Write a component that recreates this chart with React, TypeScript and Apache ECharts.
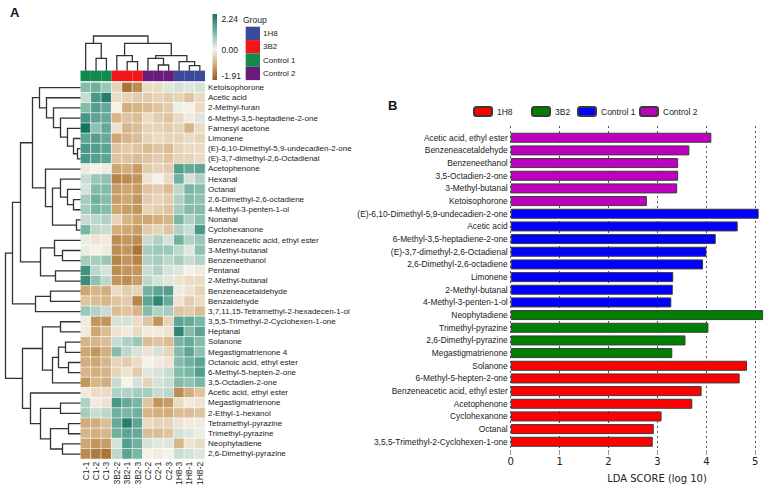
import React, { useEffect, useRef } from 'react';
import * as echarts from 'echarts';

// ---------------- Panel A data ----------------
const sampleNames = ['C1-1', 'C1-2', 'C1-3', '3B2-2', '3B2-1', '3B2-3', 'C2-2', 'C2-1', 'C2-3', '1H8-3', '1H8-1', '1H8-2'];
const sampleGroups = ['Control 1', 'Control 1', 'Control 1', '3B2', '3B2', '3B2', 'Control 2', 'Control 2', 'Control 2', '1H8', '1H8', '1H8'];
const groupLegendOrder = ['1H8', '3B2', 'Control 1', 'Control 2'];
const groupColorsA: Record<string, string> = { '1H8': '#3b4a9b', '3B2': '#f2161b', 'Control 1': '#128a4d', 'Control 2': '#6b1b7b' };

const compounds = [
  'Ketoisophorone', 'Acetic acid', '2-Methyl-furan', '6-Methyl-3,5-heptadiene-2-one', 'Farnesyl acetone', 'Limonene',
  '(E)-6,10-Dimethyl-5,9-undecadien-2-one', '(E)-3,7-dimethyl-2,6-Octadienal', 'Acetophenone', 'Hexanal', 'Octanal',
  '2,6-Dimethyl-2,6-octadiene', '4-Methyl-3-penten-1-ol', 'Nonanal', 'Cyclohexanone', 'Benzeneacetic acid, ethyl ester',
  '3-Methyl-butanal', 'Benzeneethanol', 'Pentanal', '2-Methyl-butanal', 'Benzeneacetaldehyde', 'Benzaldehyde',
  '3,7,11,15-Tetramethyl-2-hexadecen-1-ol', '3,5,5-Trimethyl-2-Cyclohexen-1-one', 'Heptanal', 'Solanone',
  'Megastigmatrienone 4', 'Octanoic acid, ethyl ester', '6-Methyl-5-hepten-2-one', '3,5-Octadien-2-one',
  'Acetic acid, ethyl ester', 'Megastigmatrienone', '2-Ethyl-1-hexanol', 'Tetramethyl-pyrazine', 'Trimethyl-pyrazine',
  'Neophytadiene', '2,6-Dimethyl-pyrazine',
];

const heatValues: number[][] = [
  [1.0, 1.2, 0.8, -0.4, -1.6, -1.3, -0.3, -0.3, 0.2, 0.3, 0.2, 0.3],
  [0.4, 1.6, 2.0, -0.3, -0.4, -0.5, -0.5, -0.4, -0.5, -0.4, -0.6, -0.3],
  [1.0, 1.5, 1.3, 0.0, -0.9, -0.8, -0.7, -0.6, -0.5, 0.05, 0.0, -0.3],
  [1.6, 1.4, 1.3, -0.8, -0.6, -0.7, -0.3, -0.5, -0.6, -0.3, -0.1, 0.2],
  [2.2, 0.9, 1.3, -0.2, -0.8, -0.7, -0.4, -0.4, -0.5, -0.4, -0.8, -0.3],
  [1.4, 1.5, 1.3, -1.0, -0.8, -0.7, -0.4, -0.3, -0.4, -0.4, -0.3, -0.4],
  [1.6, 1.5, 1.4, -0.6, -0.5, -0.6, -0.7, -0.6, -0.7, -0.4, -0.3, -0.3],
  [1.6, 1.5, 1.4, -0.6, -0.6, -0.7, -0.6, -0.5, -0.6, -0.4, -0.4, -0.3],
  [0.1, 0.0, 0.1, -1.0, -0.9, -1.1, -0.5, -0.4, -0.5, 1.5, 1.3, 1.4],
  [0.4, 0.8, 0.9, -1.4, -1.3, -1.2, -0.2, 0.0, -0.3, 1.2, 0.3, 0.6],
  [0.3, 1.0, 1.0, -1.1, -1.0, -1.1, -0.6, -0.5, -0.7, 0.5, 1.1, 1.0],
  [0.7, 1.2, 1.0, -1.1, -1.0, -1.2, -0.5, -0.4, -0.5, 0.6, 1.0, 0.9],
  [0.7, 1.1, 1.0, -1.0, -1.1, -1.2, -0.4, -0.5, -0.6, 0.7, 1.0, 1.0],
  [0.4, 0.5, 0.6, -0.4, -0.8, -1.0, -1.0, -0.9, -0.8, 1.1, 0.6, 0.9],
  [1.1, 0.5, 0.4, -0.9, -1.0, -1.1, -0.5, -0.4, -0.6, 0.6, 0.4, 1.6],
  [0.1, -0.2, -0.1, -1.3, -1.2, -1.3, 0.4, 0.6, 0.3, 1.2, 0.6, 0.8],
  [0.1, 0.0, -0.1, -1.3, -1.2, -1.6, 0.7, 0.8, 0.8, 0.5, 0.2, 0.9],
  [0.7, 0.7, 0.8, -1.4, -1.2, -1.4, 0.6, 0.7, 0.5, 0.7, 0.4, 0.6],
  [1.7, 0.5, 0.3, -1.3, -1.2, -1.2, 0.4, 0.6, 0.3, 0.2, 0.0, -0.1],
  [1.8, 0.9, 0.5, -1.2, -1.3, -1.1, 0.5, 0.3, 0.2, -0.2, -0.3, -0.3],
  [-1.0, -0.8, -0.9, -0.3, -0.5, -0.4, 1.2, 1.4, 1.5, 0.1, -0.2, -0.4],
  [-0.6, -0.7, -0.8, -0.6, -0.5, -1.4, 1.4, 1.9, 1.3, -0.2, -0.5, -0.3],
  [0.8, 0.6, 0.4, -0.7, -0.6, -0.8, 1.0, 0.6, 0.7, -0.6, -0.5, -0.7],
  [-0.1, -1.2, -1.2, 0.3, 0.3, -0.3, -0.6, -1.2, -0.4, 1.4, 1.3, 1.1],
  [-0.1, -1.0, -0.7, -0.2, -0.1, -0.3, -0.1, -0.1, -0.2, 1.9, 1.0, 1.4],
  [-0.8, -0.8, -0.7, 0.4, 0.6, 0.8, -0.7, -0.6, -0.7, 1.1, 1.3, 1.0],
  [-1.0, -1.2, -0.9, 1.0, 0.5, 0.3, -0.2, 0.3, -0.4, 1.0, 1.4, 0.9],
  [-0.9, -1.0, -0.8, -0.4, -0.5, -0.3, 0.0, -0.1, -0.2, 1.0, 1.2, 1.4],
  [-0.8, -0.9, -0.8, -0.4, -0.2, -0.5, 0.2, 0.3, 0.4, 1.0, 1.1, 1.5],
  [-1.2, -0.8, -0.9, 0.4, 0.0, 0.3, -0.4, 0.3, 0.4, 1.0, 0.9, 1.1],
  [-0.1, -0.3, -0.3, 0.6, 0.6, 0.7, 0.7, 0.4, 0.5, -1.3, -0.9, -0.6],
  [0.6, -0.1, -0.2, 1.6, 1.3, 1.1, -0.6, -1.2, -1.1, -0.3, -0.1, -0.2],
  [0.7, 0.4, 0.5, 1.2, 1.1, 1.2, -0.8, -0.9, -0.9, -0.7, -0.7, -0.6],
  [-0.9, -0.9, -0.7, 1.3, 2.0, 1.4, -0.3, -0.4, -0.4, -0.2, -0.1, -0.1],
  [-0.8, -0.9, -0.8, 1.2, 1.4, 1.3, -0.7, -0.7, -0.6, 0.3, 0.2, 0.1],
  [-1.0, -1.2, -1.1, 0.3, 1.5, 1.2, 0.3, 0.2, 0.2, -0.8, -0.2, -0.3],
  [-1.3, -1.5, -1.6, 0.5, 1.4, 1.1, 0.0, -0.1, 0.0, 0.4, 0.3, 0.2],
];

// dendrograms: [left, right, mergeHeight]; leaves are indices
type Tree = number | [Tree, Tree, number];
const colTree: Tree = [[0, [1, 2, 12.4], 27.4], [[3, [4, 5, 9], 15], [[6, [7, 8, 5.7], 12.4], [9, [10, 11, 5], 9], 15], 27.4], 34.7];
const rowTree: Tree = [
  [
    [
      [[0, [1, [2, [3, [4, [5, [6, 7, 3], 7], 13], 20], 27], 34], 41],
        [8, [[9, [10, [11, 12, 7], 13], 20], [13, 14, 4], 28], 35], 48],
      [[15, [16, 17, 18], 26], [18, 19, 25], 40],
      60,
    ],
    [[20, 21, 30], 22, 45],
    68,
  ],
  [
    [[23, 24, 20], [[[25, 26, 15], [27, 28, 12], 22], 29, 28], 38],
    [30, [[31, 32, 20], [[33, 34, 12], [35, 36, 18], 30], 40], 50],
    58,
  ],
  75,
];

const colorMin = -1.91;
const colorMax = 2.24;
const colorbarLabels = [2.24, 0.0, -1.91];
const colorAnchors: [number, string][] = [
  [-1.91, '#985a14'], [-0.95, '#d0aa76'], [0, '#f6f2ea'], [1.1, '#78b6a5'], [2.24, '#127060'],
];

// ---------------- Panel B data ----------------
const ldaFeatures = [
  'Acetic acid, ethyl ester', 'Benzeneacetaldehyde', 'Benzeneethanol', '3,5-Octadien-2-one', '3-Methyl-butanal',
  'Ketoisophorone', '(E)-6,10-Dimethyl-5,9-undecadien-2-one', 'Acetic acid', '6-Methyl-3,5-heptadiene-2-one',
  '(E)-3,7-dimethyl-2,6-Octadienal', '2,6-Dimethyl-2,6-octadiene', 'Limonene', '2-Methyl-butanal',
  '4-Methyl-3-penten-1-ol', 'Neophytadiene', 'Trimethyl-pyrazine', '2,6-Dimethyl-pyrazine', 'Megastigmatrienone',
  'Solanone', '6-Methyl-5-hepten-2-one', 'Benzeneacetic acid, ethyl ester', 'Acetophenone', 'Cyclohexanone',
  'Octanal', '3,5,5-Trimethyl-2-Cyclohexen-1-one',
];
const ldaScores = [
  4.11, 3.66, 3.43, 3.43, 3.41, 2.79, 5.08, 4.65, 4.2, 4.01, 3.94, 3.33, 3.32, 3.29,
  5.17, 4.05, 3.58, 3.31, 4.84, 4.69, 3.91, 3.72, 3.09, 2.93, 2.91,
];
const ldaGroups = [
  'Control 2', 'Control 2', 'Control 2', 'Control 2', 'Control 2', 'Control 2',
  'Control 1', 'Control 1', 'Control 1', 'Control 1', 'Control 1', 'Control 1', 'Control 1', 'Control 1',
  '3B2', '3B2', '3B2', '3B2',
  '1H8', '1H8', '1H8', '1H8', '1H8', '1H8', '1H8',
];
const ldaGroupOrder = ['1H8', '3B2', 'Control 1', 'Control 2'];
const ldaColors: Record<string, string> = { '1H8': '#ff0000', '3B2': '#008000', 'Control 1': '#0000ff', 'Control 2': '#c000c0' };
const ldaAxisMin = 0;
const ldaAxisMax = 5;
const ldaTickStep = 1;
const ldaAxisTitle = 'LDA SCORE (log 10)';

// ---------------- helpers ----------------
function hexRgb(c: string) {
  return [parseInt(c.slice(1, 3), 16), parseInt(c.slice(3, 5), 16), parseInt(c.slice(5, 7), 16)];
}
function rampColor(v: number) {
  for (let k = 0; k < colorAnchors.length - 1; k++) {
    const [v0, c0] = colorAnchors[k];
    const [v1, c1] = colorAnchors[k + 1];
    if (v <= v1 || k === colorAnchors.length - 2) {
      const t = Math.max(0, Math.min(1, (v - v0) / (v1 - v0)));
      const a = hexRgb(c0), b = hexRgb(c1);
      const m = a.map((x, i) => Math.round(x + (b[i] - x) * t));
      return `rgb(${m[0]},${m[1]},${m[2]})`;
    }
  }
  return colorAnchors[colorAnchors.length - 1][1];
}
function dendroSegments(tree: Tree, swap: boolean) {
  const segs: number[][][] = [];
  const walk = (t: Tree): { p: number; h: number } => {
    if (typeof t === 'number') return { p: t + 0.5, h: 0 };
    const a = walk(t[0]);
    const b = walk(t[1]);
    const h = t[2];
    const pts = [[a.p, a.h], [a.p, h], [b.p, h], [b.p, b.h]];
    segs.push(swap ? pts.map(([p, q]) => [q, p]) : pts);
    return { p: (a.p + b.p) / 2, h };
  };
  walk(tree);
  return segs;
}

const SANS = "'Liberation Sans', Arial, sans-serif";
const DEJAVU = "'DejaVu Sans', sans-serif";

export default function App() {
  const ref = useRef<HTMLDivElement>(null);
  useEffect(() => {
    if (!ref.current) return;
    const chart = echarts.init(ref.current, undefined, { renderer: 'svg' });

    // layout
    const hmLeft = 80.5, hmTop = 82.5, hmW = 124.5, hmH = 376.7;
    const cbX = 212.5, cbY = 14, cbW = 4.5, cbH = 66;
    const bLeft = 510.7, unitPx = 48.92;
    const bTop = 131.4, bH = 316.7;

    const heatData: number[][] = [];
    heatValues.forEach((row, r) => row.forEach((v, c) => heatData.push([c, r, v])));
    const vmColors = Array.from({ length: 90 }, (_, k) => rampColor(colorMin + ((colorMax - colorMin) * k) / 89));
    const gradStops = colorAnchors
      .map(([v, c]) => ({ offset: (colorMax - v) / (colorMax - colorMin), color: c }))
      .sort((a, b) => a.offset - b.offset);

    const colSegs = dendroSegments(colTree, false);
    const rowSegs = dendroSegments(rowTree, true);

    const graphic: any[] = [
      { type: 'text', x: 10, y: 6, style: { text: 'A', font: `bold 13px ${SANS}`, fill: '#111' } },
      { type: 'text', x: 388, y: 99, style: { text: 'B', font: `bold 13px ${SANS}`, fill: '#111' } },
      {
        type: 'rect', shape: { x: cbX, y: cbY, width: cbW, height: cbH },
        style: { fill: { type: 'linear', x: 0, y: 0, x2: 0, y2: 1, colorStops: gradStops } },
      },
      ...colorbarLabels.map((v, i) => ({
        type: 'text', x: 221.5, y: cbY + ((colorMax - v) / (colorMax - colorMin)) * cbH,
        style: {
          text: v.toFixed(2), font: `8.5px ${SANS}`, fill: '#222', textAlign: 'left',
          textVerticalAlign: i === 0 ? 'top' : i === colorbarLabels.length - 1 ? 'bottom' : 'middle',
        },
      })),
      { type: 'text', x: 243, y: 20, style: { text: 'Group', font: `8.5px ${SANS}`, fill: '#222', textVerticalAlign: 'middle' } },
      ...groupLegendOrder.map((g, i) => ({
        type: 'rect', shape: { x: 245.7, y: 26.7 + i * 13.35, width: 14.3, height: 13.35 },
        style: { fill: groupColorsA[g] },
      })),
      ...groupLegendOrder.map((g, i) => ({
        type: 'text', x: 263, y: 26.7 + i * 13.35 + 6.7,
        style: { text: g, font: `8px ${SANS}`, fill: '#222', textVerticalAlign: 'middle' },
      })),
      {
        type: 'text', x: 657, y: 478,
        style: { text: ldaAxisTitle, font: `10px ${DEJAVU}`, fill: '#222', textAlign: 'center', textVerticalAlign: 'middle' },
      },
    ];

    const option: any = {
      animation: false,
      backgroundColor: '#fff',
      graphic,
      legend: ldaGroupOrder.map((g, i) => ({
        data: [g], left: [473, 531, 577, 639][i], top: 106, padding: 0,
        itemWidth: 18, itemHeight: 9, itemGap: 5, selectedMode: false,
        textStyle: { fontSize: 8.5, fontFamily: SANS, color: '#222' },
      })),
      visualMap: {
        show: false, type: 'continuous', min: colorMin, max: colorMax, seriesIndex: 0,
        inRange: { color: vmColors },
      },
      grid: [
        { left: hmLeft, top: hmTop, width: hmW, height: hmH },
        { left: hmLeft, top: 70.6, width: hmW, height: 10.6 },
        { left: hmLeft, top: 30, width: hmW, height: 40.7 },
        { left: 0, top: hmTop, width: hmLeft, height: hmH },
        { left: bLeft, top: bTop, width: unitPx * 5.25, height: bH },
        { left: bLeft, top: 126, width: unitPx * (ldaAxisMax - ldaAxisMin), height: 324 },
      ],
      xAxis: [
        {
          gridIndex: 0, type: 'category', data: sampleNames, position: 'bottom',
          axisLine: { show: false }, axisTick: { show: false },
          axisLabel: { rotate: 90, fontSize: 8.5, fontFamily: SANS, color: '#222', margin: 3, interval: 0 },
        },
        { gridIndex: 1, type: 'category', data: sampleNames, show: false },
        { gridIndex: 2, type: 'value', min: 0, max: 12, show: false },
        { gridIndex: 3, type: 'value', min: 0, max: hmLeft, inverse: true, show: false },
        { gridIndex: 4, type: 'value', min: 0, max: 5.25, show: false },
        {
          gridIndex: 5, type: 'value', min: ldaAxisMin, max: ldaAxisMax, interval: ldaTickStep, position: 'bottom',
          axisLine: { show: false },
          axisTick: { show: true, length: 5, lineStyle: { color: '#999' } },
          axisLabel: { fontSize: 10, fontFamily: DEJAVU, color: '#222', margin: 6 },
          splitLine: { show: true, lineStyle: { color: '#555', width: 1, type: [2, 3] } },
        },
      ],
      yAxis: [
        {
          gridIndex: 0, type: 'category', data: compounds, inverse: true, position: 'right',
          axisLine: { show: false }, axisTick: { show: false },
          axisLabel: { fontSize: 8, fontFamily: SANS, color: '#222', margin: 3, interval: 0 },
        },
        { gridIndex: 1, type: 'value', min: 0, max: 1, show: false },
        { gridIndex: 2, type: 'value', min: 0, max: 40.7, show: false },
        { gridIndex: 3, type: 'value', min: 0, max: compounds.length, inverse: true, show: false },
        {
          gridIndex: 4, type: 'category', data: ldaFeatures, inverse: true,
          axisLine: { show: false }, axisTick: { show: false },
          axisLabel: { fontSize: 8.4, fontFamily: SANS, color: '#222', margin: 3, interval: 0 },
        },
        { gridIndex: 5, type: 'value', min: 0, max: 1, show: false },
      ],
      series: [
        {
          type: 'heatmap', xAxisIndex: 0, yAxisIndex: 0, data: heatData,
          itemStyle: { borderColor: '#ffffff', borderWidth: 0.6 },
          emphasis: { disabled: true }, silent: true,
        },
        {
          type: 'bar', xAxisIndex: 1, yAxisIndex: 1, barCategoryGap: '0%', silent: true,
          data: sampleGroups.map((g) => ({ value: 1, itemStyle: { color: groupColorsA[g] } })),
        },
        {
          type: 'lines', coordinateSystem: 'cartesian2d', xAxisIndex: 2, yAxisIndex: 2, polyline: true, silent: true,
          lineStyle: { color: '#333', width: 1.3, opacity: 1 },
          data: colSegs.map((c) => ({ coords: c })),
        },
        {
          type: 'lines', coordinateSystem: 'cartesian2d', xAxisIndex: 3, yAxisIndex: 3, polyline: true, silent: true,
          lineStyle: { color: '#333', width: 1.3, opacity: 1 },
          data: rowSegs.map((c) => ({ coords: c })),
        },
        ...ldaGroupOrder.map((g) => ({
          type: 'bar', name: g, xAxisIndex: 4, yAxisIndex: 4, stack: 'lda', barWidth: 10,
          data: ldaScores.map((v, i) => (ldaGroups[i] === g ? v : null)),
          itemStyle: { color: ldaColors[g], borderColor: '#3a3a3a', borderWidth: 1 },
          silent: true,
        })),
      ],
    };
    chart.setOption(option);
    return () => chart.dispose();
  }, []);
  return <div ref={ref} style={{ position: 'fixed', left: 0, top: 0, width: 767, height: 488 }} />;
}
